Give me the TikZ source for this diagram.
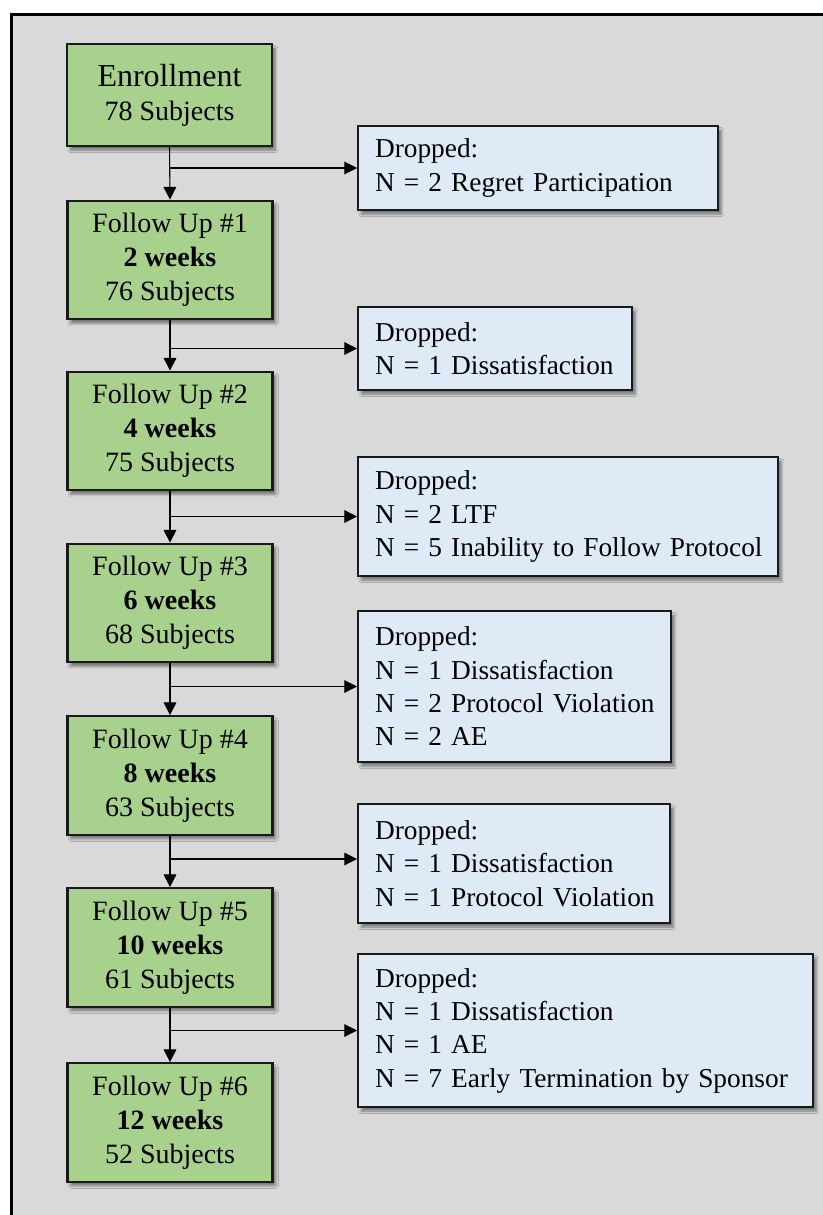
\documentclass[tikz,border=0pt]{standalone}
\usepackage{fontspec}
\setmainfont{Liberation Serif}
\usetikzlibrary{arrows.meta,shadows.blur}
\definecolor{bg}{HTML}{D9D9D9}
\definecolor{grn}{HTML}{A9D18E}
\definecolor{blu}{HTML}{DEEBF7}
\newcommand\oneline[1]{\mbox{#1}}
\begin{document}
\begin{tikzpicture}[x=0.75pt,y=-0.75pt,
  shad/.style={blur shadow={shadow xshift=2.5pt,shadow yshift=-3pt,shadow blur steps=8,shadow opacity=45}},
  gbox/.style={shad,draw=black!90,line width=1.6pt,fill=grn,minimum width=153.75pt,minimum height=89pt,
    align=center,inner sep=0pt,font=\fontsize{21}{25.5}\selectfont},
  dbox/.style={shad,draw=black!90,line width=1.6pt,fill=blu,anchor=west,align=left,
    inner xsep=12.75pt,inner ysep=0pt,text width=#1,font=\fontsize{20.5}{25}\selectfont},
  conn/.style={line width=0.8pt,-{Triangle[length=9.5pt,width=9.5pt]}}]
\clip (0,0) rectangle (823,1215);
\fill[white] (0,0) rectangle (823,1215);
\draw[line width=2.2pt,fill=bg] (11.5,14.5) rectangle (1000,1400);

\node[gbox,minimum height=76.5pt] (e) at (169.5,95)
  {{\fontsize{24}{27}\selectfont Enrollment}\\78 Subjects};
\node[gbox] (f1) at (170,260) {Follow Up \#1\\\textbf{2 weeks}\\76 Subjects};
\node[gbox] (f2) at (170,431) {Follow Up \#2\\\textbf{4 weeks}\\75 Subjects};
\node[gbox] (f3) at (170,603) {Follow Up \#3\\\textbf{6 weeks}\\68 Subjects};
\node[gbox] (f4) at (170,775.5) {Follow Up \#4\\\textbf{8 weeks}\\63 Subjects};
\node[gbox] (f5) at (170,947.5) {Follow Up \#5\\\textbf{10 weeks}\\61 Subjects};
\node[gbox] (f6) at (170,1122.5) {Follow Up \#6\\\textbf{12 weeks}\\52 Subjects};

\node[dbox=244.5pt,minimum height=63pt] (d1) at (357,168)
  {\oneline{Dropped:}\\\oneline{N = 2 Regret Participation}};
\node[dbox=180pt,minimum height=62.25pt] (d2) at (357,348.5)
  {\oneline{Dropped:}\\\oneline{N = 1 Dissatisfaction}};
\node[dbox=289.5pt,minimum height=89.25pt] (d3) at (357,516.5)
  {\oneline{Dropped:}\\\oneline{N = 2 LTF}\\\oneline{N = 5 Inability to Follow Protocol}};
\node[dbox=209.25pt,minimum height=113.25pt] (d4) at (357,686.5)
  {\oneline{Dropped:}\\\oneline{N = 1 Dissatisfaction}\\\oneline{N = 2 Protocol Violation}\\\oneline{N = 2 AE}};
\node[dbox=208.5pt,minimum height=89.25pt] (d5) at (357,863.5)
  {\oneline{Dropped:}\\\oneline{N = 1 Dissatisfaction}\\\oneline{N = 1 Protocol Violation}};
\node[dbox=315.75pt,minimum height=114.75pt] (d6) at (357,1030.5)
  {\oneline{Dropped:}\\\oneline{N = 1 Dissatisfaction}\\\oneline{N = 1 AE}\\\oneline{N = 7 Early Termination by Sponsor}};

\draw[conn] (e.south) -- (f1.north);
\draw[conn] (f1.south) -- (f2.north);
\draw[conn] (f2.south) -- (f3.north);
\draw[conn] (f3.south) -- (f4.north);
\draw[conn] (f4.south) -- (f5.north);
\draw[conn] (f5.south) -- (f6.north);

\draw[conn] (e.south |- d1.west) -- (d1.west);
\draw[conn] (f1.south |- d2.west) -- (d2.west);
\draw[conn] (f2.south |- d3.west) -- (d3.west);
\draw[conn] (f3.south |- d4.west) -- (d4.west);
\draw[conn] (f4.south |- d5.west) ++(0,-4.5) coordinate (b5) -- (b5 -| d5.west);
\draw[conn] (f5.south |- d6.west) -- (d6.west);
\end{tikzpicture}
\end{document}
